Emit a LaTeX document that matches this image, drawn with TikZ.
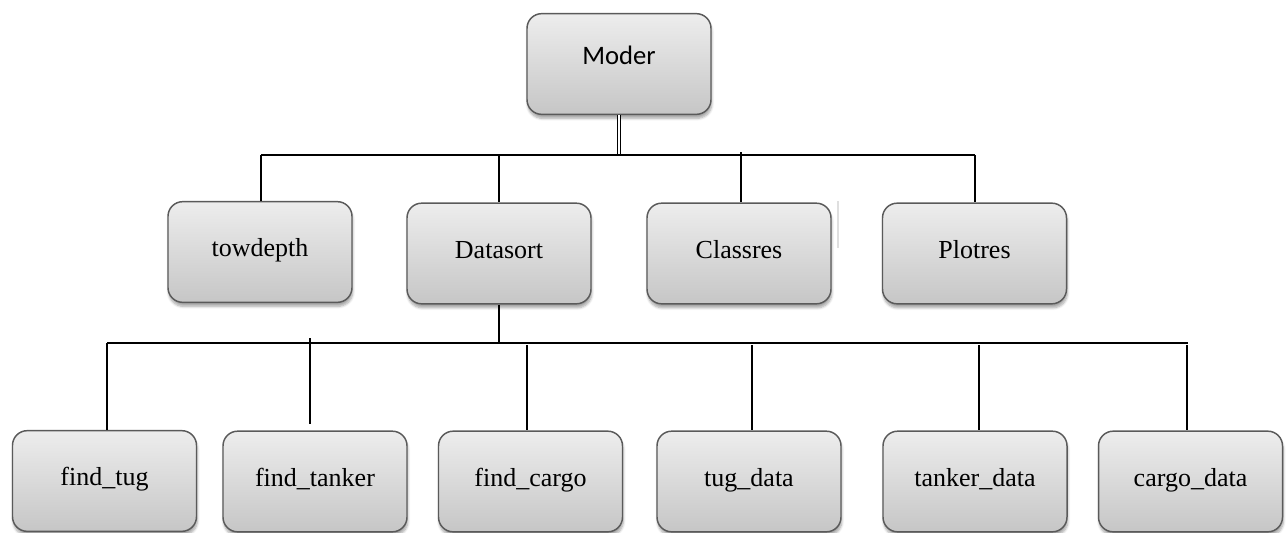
\documentclass[tikz,border=0pt]{standalone}
\usepackage{fontspec}
\setmainfont{Liberation Serif}
\newfontfamily\calib{Carlito}
\usetikzlibrary{shadows,shadows.blur,calc}
\definecolor{boxline}{HTML}{5A5A5A}
\definecolor{boxtop}{HTML}{EDEDED}
\definecolor{boxbot}{HTML}{C6C6C6}
\tikzset{
  box/.style={draw=boxline, line width=1.1pt, rounded corners=11pt,
    top color=boxtop, bottom color=boxbot, inner sep=0pt,
    minimum width=138pt, minimum height=75.5pt,
    text height=13pt, text depth=6pt,
    font=\fontsize{19.5}{23}\selectfont,
    blur shadow={shadow xshift=0.6pt, shadow yshift=-3pt, shadow blur steps=6, shadow opacity=35}},
  topbox/.style={box, text height=12pt, text depth=11pt, font=\calib\fontsize{20}{24}\selectfont},
  link/.style={draw=black, line width=1.1pt},
}
\begin{document}
\begin{tikzpicture}[x=0.75pt,y=-0.75pt]
\useasboundingbox (0,0) rectangle (1287,532);
% nodes
\node[topbox] (moder) at (619,64) {Moder};
\node[box] (towdepth) at (260,252) {towdepth};
\node[box] (datasort) at (499,253.5) {Datasort};
\node[box] (classres) at (739,253.5) {Classres};
\node[box] (plotres) at (974.5,253.5) {Plotres};
\node[box] (findtug) at (104.5,481) {find\_tug};
\node[box] (findtanker) at (315,481.5) {find\_tanker};
\node[box] (findcargo) at (530.5,481.5) {find\_cargo};
\node[box] (tugdata) at (749,481.5) {tug\_data};
\node[box] (tankerdata) at (975,481.5) {tanker\_data};
\node[box] (cargodata) at (1190.5,481.5) {cargo\_data};
% bus coordinates
\coordinate (tbL) at (261,155);
\coordinate (tbR) at (975,155);
\coordinate (bbL) at (107,343);
\coordinate (bbR) at (1188,343);
% top level
\draw[link, double, double distance=1.4pt, line width=0.9pt] (moder.south) -- (moder.south |- tbL);
\draw[link] (tbL) -- (tbR);
\draw[link] (tbL) -- (tbL |- towdepth.north);
\draw[link] (499,155) coordinate (d1) -- (d1 |- datasort.north);
\draw[link] (741,152) coordinate (c1) -- (c1 |- classres.north);
\draw[link] (tbR) -- (tbR |- plotres.north);
\draw[gray!25, line width=0.8pt] (838,201) -- (838,248);
% second level
\draw[link] (datasort.south) -- (datasort.south |- bbL);
\draw[link] (bbL) -- (bbR);
\draw[link] (bbL) -- (bbL |- findtug.north);
\draw[link] (310,338) coordinate (t1) -- ($(t1 |- findtanker.north)+(0,-6)$);
\draw[link] (527,345) coordinate (t2) -- (t2 |- findcargo.north);
\draw[link] (752,345) coordinate (t3) -- (t3 |- tugdata.north);
\draw[link] (979,345) coordinate (t4) -- (t4 |- tankerdata.north);
\draw[link] (1187,345) coordinate (t5) -- (t5 |- cargodata.north);
\end{tikzpicture}
\end{document}
